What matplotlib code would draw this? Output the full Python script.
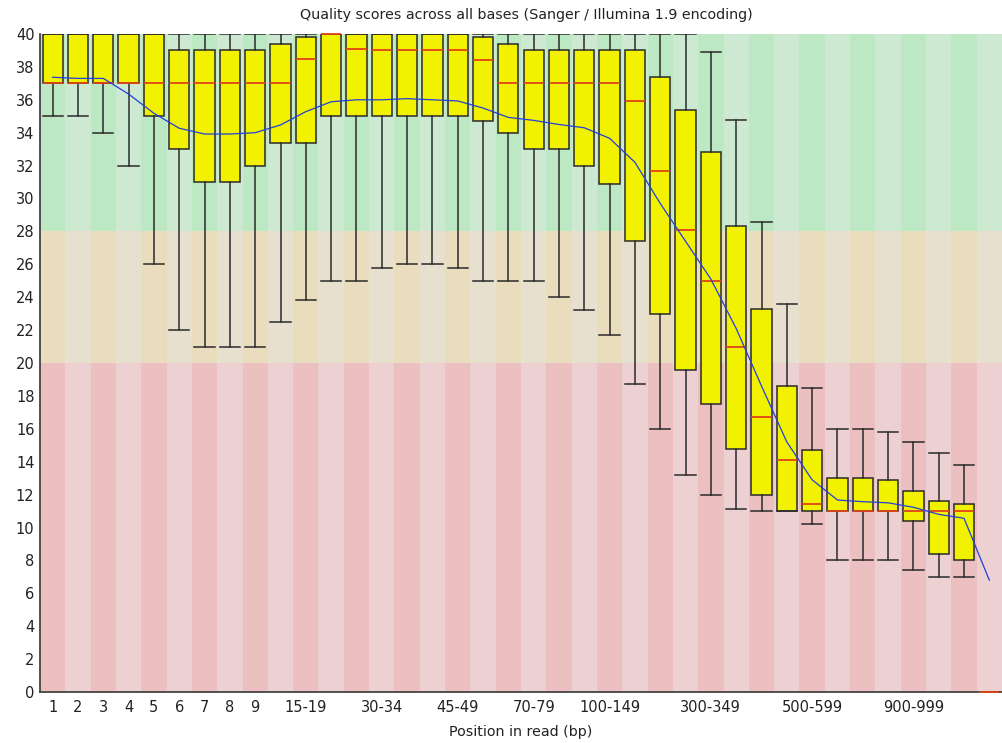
import matplotlib
matplotlib.use("Agg")
import matplotlib.pyplot as plt
import numpy as np

# Read positions (FastQC-style base groups)
positions = [
    "1", "2", "3", "4", "5", "6", "7", "8", "9",
    "10-14", "15-19", "20-24", "25-29", "30-34", "35-39", "40-44", "45-49",
    "50-59", "60-69", "70-79", "80-89", "90-99",
    "100-149", "150-199", "200-249", "250-299", "300-349", "350-399",
    "400-449", "450-499",
    "500-599", "600-699", "700-799", "800-899", "900-999",
    "1000-1099", "1100-1199", "1200-1299",
]
shown_labels = ["1", "2", "3", "4", "5", "6", "7", "8", "9", "15-19", "30-34",
                "45-49", "70-79", "100-149", "300-349", "500-599", "900-999"]

# Per-position quality statistics
upper_whisker = [40, 40, 40, 40, 40, 40, 40, 40, 40, 40, 40, 40, 40, 40, 40, 40,
                 40, 40, 40, 40, 40, 40, 40, 40, 40, 40, 38.9, 34.8, 28.6, 23.6,
                 18.5, 16.0, 16.0, 15.8, 15.2, 14.5, 13.8, 0]
upper_quartile = [40, 40, 40, 40, 40, 39, 39, 39, 39, 39.4, 39.8, 40, 40, 40, 40,
                  40, 40, 39.8, 39.4, 39, 39, 39, 39, 39, 37.4, 35.4, 32.8, 28.3,
                  23.3, 18.6, 14.7, 13.0, 13.0, 12.9, 12.2, 11.6, 11.4, 0]
median = [37, 37, 37, 37, 37, 37, 37, 37, 37, 37, 38.5, 40, 39.1, 39, 39, 39, 39,
          38.4, 37, 37, 37, 37, 37, 35.9, 31.7, 28.1, 25.0, 21.0, 16.7, 14.1,
          11.4, 11, 11, 11, 11, 11, 11, 0]
lower_quartile = [37, 37, 37, 37, 35, 33, 31, 31, 32, 33.4, 33.4, 35, 35, 35, 35,
                  35, 35, 34.7, 34, 33, 33, 32, 30.9, 27.4, 23.0, 19.6, 17.5, 14.8,
                  12.0, 11.0, 11.0, 11, 11, 11, 10.4, 8.4, 8.0, 0]
lower_whisker = [35, 35, 34, 32, 26, 22, 21, 21, 21, 22.5, 23.8, 25, 25, 25.8, 26,
                 26, 25.8, 25, 25, 25, 24, 23.2, 21.7, 18.7, 16.0, 13.2, 12.0, 11.1,
                 11.0, 11.0, 10.2, 8.0, 8.0, 8.0, 7.4, 7.0, 7.0, 0]
mean = [37.37, 37.3, 37.3, 36.35, 35.18, 34.27, 33.92, 33.92, 34.0, 34.47, 35.28,
        35.88, 36.0, 36.0, 36.07, 36.0, 35.93, 35.5, 34.93, 34.75, 34.5, 34.3,
        33.66, 32.2, 29.7, 27.4, 25.1, 22.1, 18.6, 15.2, 12.9, 11.67, 11.57, 11.5,
        11.23, 10.8, 10.56, 6.8]

n = len(positions)
x = np.arange(1, n + 1)

fig = plt.figure(figsize=(10.02, 7.43), dpi=100)
ax = fig.add_axes([40 / 1002, 51 / 743, 962 / 1002, 658 / 743])

# Background quality zones, alternating shades per column
zones = [
    (0, 20, "#ecbfc1", "#ecd0d2"),
    (20, 28, "#eaddbd", "#e8e0cf"),
    (28, 40, "#bde8c4", "#cee9d2"),
]
for lo, hi, dark, light in zones:
    shades = [dark if i % 2 == 0 else light for i in range(n)]
    ax.bar(x, hi - lo, bottom=lo, width=1.0, color=shades, linewidth=0, zorder=0)

stats = []
for i in range(n):
    stats.append({
        "whislo": lower_whisker[i], "q1": lower_quartile[i], "med": median[i],
        "q3": upper_quartile[i], "whishi": upper_whisker[i], "fliers": [],
    })

ax.bxp(
    stats, positions=x, widths=0.8, capwidths=0.8, patch_artist=True,
    showfliers=False, manage_ticks=False,
    boxprops=dict(facecolor="#f2f200", edgecolor="#2a2a2a", linewidth=1.1),
    whiskerprops=dict(color="#2a2a2a", linewidth=1.1),
    capprops=dict(color="#2a2a2a", linewidth=1.1),
    medianprops=dict(color="#e04418", linewidth=1.3, clip_on=False, zorder=4),
)

ax.plot(x, mean, color="#2040d8", linewidth=0.9, zorder=5)

ax.set_xlim(0.5, n + 0.5)
ax.set_ylim(0, 40)
ax.set_yticks(np.arange(0, 41, 2))
tick_pos = [positions.index(lab) + 1 for lab in shown_labels]
ax.set_xticks(tick_pos)
ax.set_xticklabels(shown_labels)
ax.tick_params(axis="both", length=0, labelsize=10.5, colors="#222222")
ax.tick_params(axis="y", pad=4)
ax.tick_params(axis="x", pad=6)

for side in ["top", "right"]:
    ax.spines[side].set_visible(False)
for side in ["left", "bottom"]:
    ax.spines[side].set_color("#444444")
    ax.spines[side].set_linewidth(1.3)

fig.text(526 / 1002, 1 - 15 / 743, "Quality scores across all bases (Sanger / Illumina 1.9 encoding)",
         ha="center", va="center", fontsize=10.3, color="#222222")
ax.set_xlabel("Position in read (bp)", fontsize=10.3, color="#222222", labelpad=7)

fig.savefig("out.png", dpi=100)
